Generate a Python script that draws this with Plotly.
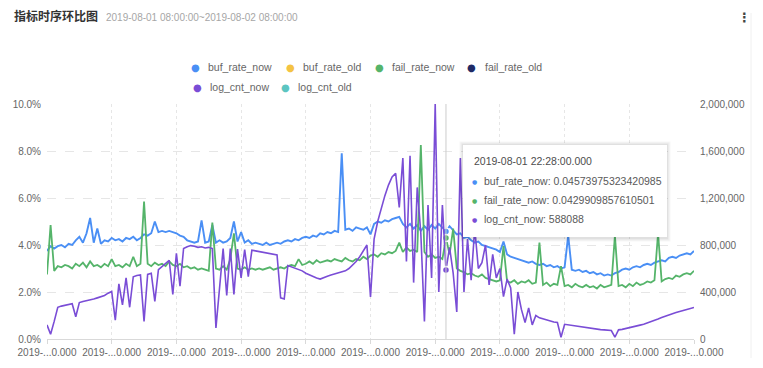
import plotly.graph_objects as go
import pandas as pd

# ---------------- data ----------------
times = list(pd.date_range("2019-08-01 08:00:00", periods=181, freq="8min")
             .strftime("%Y-%m-%d %H:%M:%S.000"))

buf_rate_now = [
    0.0375, 0.0395, 0.0385, 0.0395, 0.0400, 0.0390, 0.0405, 0.0400, 0.0420, 0.0435,
    0.0410, 0.0450, 0.0515, 0.0410, 0.0470, 0.0405, 0.0420, 0.0415, 0.0430, 0.0420,
    0.0425, 0.0415, 0.0430, 0.0425, 0.0435, 0.0420, 0.0430, 0.0445, 0.0440, 0.0450,
    0.0500, 0.0455, 0.0460, 0.0455, 0.0460, 0.0455, 0.0450, 0.0440, 0.0435, 0.0420,
    0.0415, 0.0410, 0.0415, 0.0505, 0.0410, 0.0415, 0.0485, 0.0410, 0.0420, 0.0410,
    0.0415, 0.0430, 0.0500, 0.0415, 0.0455, 0.0410, 0.0420, 0.0405, 0.0410, 0.0405,
    0.0400, 0.0410, 0.0400, 0.0405, 0.0410, 0.0405, 0.0415, 0.0420, 0.0415, 0.0425,
    0.0420, 0.0430, 0.0435, 0.0430, 0.0440, 0.0435, 0.0450, 0.0445, 0.0455, 0.0450,
    0.0460, 0.0455, 0.0790, 0.0465, 0.0470, 0.0460, 0.0475, 0.0470, 0.0465, 0.0475,
    0.0445, 0.0490, 0.0500, 0.0495, 0.0505, 0.0500, 0.0510, 0.0515, 0.0520, 0.0490,
    0.0475, 0.0490, 0.0470, 0.0485, 0.0460, 0.0480, 0.0465, 0.0485, 0.0470, 0.0490,
    0.0475, 0.04573975323420985, 0.0480, 0.0460, 0.0445, 0.0450, 0.0430, 0.0435, 0.0420, 0.0410,
    0.0415, 0.0400, 0.0395, 0.0390, 0.0385, 0.0380, 0.0370, 0.0415, 0.0360, 0.0350,
    0.0345, 0.0340, 0.0335, 0.0330, 0.0325, 0.0330, 0.0320, 0.0315, 0.0320, 0.0310,
    0.0315, 0.0305, 0.0310, 0.0300, 0.0305, 0.0440, 0.0295, 0.0290, 0.0295, 0.0285,
    0.0290, 0.0280, 0.0285, 0.0275, 0.0280, 0.0270, 0.0275, 0.0270, 0.0280, 0.0285,
    0.0295, 0.0300, 0.0295, 0.0305, 0.0310, 0.0305, 0.0315, 0.0320, 0.0315, 0.0325,
    0.0330, 0.0335, 0.0330, 0.0345, 0.0350, 0.0345, 0.0355, 0.0360, 0.0365, 0.0360,
    0.0375,
]

fail_rate_now = [
    0.0275, 0.0485, 0.0290, 0.0310, 0.0305, 0.0315, 0.0310, 0.0300, 0.0320, 0.0310,
    0.0325, 0.0305, 0.0330, 0.0310, 0.0315, 0.0305, 0.0320, 0.0310, 0.0340, 0.0310,
    0.0315, 0.0305, 0.0320, 0.0310, 0.0350, 0.0310, 0.0320, 0.0585, 0.0320, 0.0310,
    0.0325, 0.0315, 0.0320, 0.0310, 0.0330, 0.0315, 0.0310, 0.0320, 0.0305, 0.0310,
    0.0300, 0.0305, 0.0295, 0.0300, 0.0295, 0.0290, 0.0495, 0.0300, 0.0295, 0.0310,
    0.0295, 0.0340, 0.0450, 0.0300, 0.0295, 0.0305, 0.0295, 0.0300, 0.0295, 0.0300,
    0.0295, 0.0300, 0.0305, 0.0295, 0.0300, 0.0305, 0.0300, 0.0310, 0.0315, 0.0310,
    0.0340, 0.0315, 0.0320, 0.0330, 0.0320, 0.0335, 0.0325, 0.0330, 0.0335, 0.0330,
    0.0340, 0.0335, 0.0330, 0.0345, 0.0335, 0.0330, 0.0340, 0.0335, 0.0350, 0.0340,
    0.0355, 0.0360, 0.0350, 0.0365, 0.0360, 0.0370, 0.0365, 0.0375, 0.0410, 0.0370,
    0.0390, 0.0375, 0.0380, 0.0370, 0.0825, 0.0370, 0.0350, 0.0360, 0.0345, 0.0350,
    0.0340, 0.0429909857610501, 0.0360, 0.0470, 0.0300, 0.0290, 0.0285, 0.0275, 0.0280, 0.0270,
    0.0265, 0.0275, 0.0260, 0.0255, 0.0250, 0.0245, 0.0250, 0.0395, 0.0245, 0.0240,
    0.0250, 0.0235, 0.0245, 0.0240, 0.0250, 0.0235, 0.0240, 0.0410, 0.0230, 0.0240,
    0.0225, 0.0235, 0.0230, 0.0310, 0.0225, 0.0230, 0.0220, 0.0235, 0.0225, 0.0220,
    0.0230, 0.0220, 0.0225, 0.0215, 0.0230, 0.0220, 0.0225, 0.0230, 0.0440, 0.0225,
    0.0230, 0.0220, 0.0235, 0.0225, 0.0240, 0.0230, 0.0235, 0.0245, 0.0240, 0.0250,
    0.0450, 0.0245, 0.0255, 0.0260, 0.0255, 0.0270, 0.0265, 0.0275, 0.0280, 0.0275,
    0.0290,
]

log_cnt_now = [
    120000, 40000, 150000, 270000, 280000, 285000, 290000, 300000, 190000, 310000,
    320000, 325000, 335000, 340000, 350000, 360000, 370000, 390000, 405000, 160000,
    470000, 290000, 520000, 270000, 530000, 540000, 545000, 150000, 550000, 560000,
    320000, 590000, 615000, 640000, 670000, 380000, 730000, 450000, 770000, 785000,
    795000, 790000, 780000, 785000, 775000, 780000, 770000, 95000, 470000, 770000,
    370000, 770000, 380000, 765000, 520000, 760000, 530000, 755000, 750000, 745000,
    740000, 735000, 730000, 725000, 715000, 350000, 340000, 625000, 615000, 600000,
    590000, 580000, 560000, 545000, 530000, 520000, 510000, 525000, 535000, 545000,
    555000, 565000, 570000, 580000, 600000, 630000, 660000, 700000, 750000, 800000,
    357000, 850000, 1000000, 1115000, 1220000, 1310000, 1380000, 1410000, 1120000, 1540000,
    660000, 1560000, 480000, 1290000, 900000, 150000, 1140000, 520000, 2000000, 400000,
    1140000, 588088, 780000, 560000, 230000, 1540000, 400000, 850000, 500000, 945000,
    600000, 650000, 800000, 460000, 720000, 520000, 600000, 360000, 510000, 434000,
    40000, 400000, 250000, 140000, 264000, 120000, 200000, 180000, 170000, 160000,
    150000, 145000, 140000, 15000, 125000, 120000, 115000, 110000, 105000, 100000,
    95000, 90000, 88000, 85000, 80000, 78000, 75000, 72000, 15000, 78000,
    82000, 88000, 95000, 100000, 110000, 118000, 125000, 135000, 145000, 158000,
    170000, 182000, 195000, 205000, 215000, 225000, 235000, 245000, 252000, 260000,
    268000,
]

x_tick_labels = ["2019-...0.000"] * 11
left_ticks = [0.0, 0.02, 0.04, 0.06, 0.08, 0.10]
right_ticks = [0, 400000, 800000, 1200000, 1600000, 2000000]

legend_names = ["buf_rate_now", "buf_rate_old", "fail_rate_now", "fail_rate_old",
                "log_cnt_now", "log_cnt_old"]
legend_colors = ["#4a8ff5", "#f4c343", "#55b46a", "#1f2a66", "#7a4dd6", "#5cc5c1"]

title_text = "指标时序环比图"
subtitle_text = "2019-08-01 08:00:00~2019-08-02 08:00:00"
tooltip_index = 111
tooltip_header = "2019-08-01 22:28:00.000"

# ---------------- layout helpers ----------------
# page body has an 8px default margin: figure starts at page (8, 8)
OFF = 8
PAGE_W, PAGE_H = 763, 368
PL, PR_EDGE, PT, PB_EDGE = 47, 694, 104, 339      # plot area in page pixels
W, H = PAGE_W - 2 * OFF, PAGE_H - 2 * OFF
L, T = PL - OFF, PT - OFF
PW, PH = PR_EDGE - PL, PB_EDGE - PT
R, B = W - L - PW, H - T - PH
def px(x): return (x - PL) / PW
def py(y): return (PB_EDGE - y) / PH

FONT = "Liberation Sans, Arial, Helvetica, sans-serif"
C_BLUE, C_GREEN, C_PURPLE = legend_colors[0], legend_colors[2], legend_colors[4]

fig = go.Figure()
fig.add_trace(go.Scatter(x=times, y=buf_rate_now, name="buf_rate_now", mode="lines",
                         line=dict(color=C_BLUE, width=1.9), showlegend=False))
fig.add_trace(go.Scatter(x=times, y=fail_rate_now, name="fail_rate_now", mode="lines",
                         line=dict(color=C_GREEN, width=1.8), showlegend=False))
fig.add_trace(go.Scatter(x=times, y=log_cnt_now, name="log_cnt_now", mode="lines",
                         line=dict(color=C_PURPLE, width=1.6), yaxis="y2", showlegend=False))

# highlighted points at the crosshair
hi = tooltip_index
for ser, col, ax in [(buf_rate_now, C_BLUE, "y"), (fail_rate_now, C_GREEN, "y"),
                     (log_cnt_now, C_PURPLE, "y2")]:
    fig.add_trace(go.Scatter(x=[times[hi]], y=[ser[hi]], mode="markers", yaxis=ax,
                             marker=dict(size=7, color=col, line=dict(color="white", width=1.5)),
                             showlegend=False, hoverinfo="skip"))

shapes = []
annotations = []

# crosshair
shapes.append(dict(type="line", xref="x", yref="paper", x0=times[hi], x1=times[hi], y0=0, y1=1,
                   line=dict(color="#cccccc", width=1), layer="above"))

# tooltip box with soft shadow
bx0, bx1, by0, by1 = px(463), px(667), py(237), py(145)
for i, a in enumerate([0.03, 0.04, 0.05]):
    d = (3 - i) * 1.2
    shapes.append(dict(type="rect", xref="paper", yref="paper",
                       x0=bx0 - d / PW, x1=bx1 + d / PW, y0=by0 - (d + 1) / PH, y1=by1 + d / PH,
                       fillcolor=f"rgba(0,0,0,{a})", line=dict(width=0), layer="above"))
shapes.append(dict(type="rect", xref="paper", yref="paper", x0=bx0, x1=bx1, y0=by0, y1=by1,
                   fillcolor="white", line=dict(width=0), layer="above"))

annotations.append(dict(xref="paper", yref="paper", x=px(472), y=py(161), xanchor="left",
                        yanchor="middle", showarrow=False, text=tooltip_header,
                        font=dict(size=10.5, color="#4d4d4d", family=FONT)))
rows = [("buf_rate_now", buf_rate_now[hi], C_BLUE, 181),
        ("fail_rate_now", fail_rate_now[hi], C_GREEN, 200),
        ("log_cnt_now", log_cnt_now[hi], C_PURPLE, 219)]
for name, val, col, yy in rows:
    annotations.append(dict(xref="paper", yref="paper", x=px(474), y=py(yy), xanchor="center",
                            yanchor="middle", showarrow=False, text="●",
                            font=dict(size=6, color=col, family="DejaVu Sans")))
    annotations.append(dict(xref="paper", yref="paper", x=px(482), y=py(yy), xanchor="left",
                            yanchor="middle", showarrow=False, text=f"{name}: {val}",
                            font=dict(size=10.5, color="#595959", family=FONT)))

# title
annotations.append(dict(xref="paper", yref="paper", x=px(12), y=py(15.5), xanchor="left",
                        yanchor="middle", showarrow=False, text="<b>" + title_text + "</b>",
                        font=dict(size=12, color="#333333", family="Noto Sans CJK SC")))
annotations.append(dict(xref="paper", yref="paper", x=px(104), y=py(17), xanchor="left",
                        yanchor="middle", showarrow=False, text=subtitle_text,
                        font=dict(size=10, color="#a6a6a6", family=FONT)))
annotations.append(dict(xref="paper", yref="paper", x=px(744), y=py(17), xanchor="center",
                        yanchor="middle", showarrow=False, text="<b>⋮</b>",
                        font=dict(size=13, color="#444444", family="DejaVu Sans")))

# legend (manual, two rows)
leg_pos = [(195, 67), (290, 67), (379, 67), (472, 67), (197, 87), (285, 87)]
for name, col, (dx, dy) in zip(legend_names, legend_colors, leg_pos):
    annotations.append(dict(xref="paper", yref="paper", x=px(dx), y=py(dy), xanchor="center",
                            yanchor="middle", showarrow=False, text="●",
                            font=dict(size=10, color=col, family="DejaVu Sans")))
    annotations.append(dict(xref="paper", yref="paper", x=px(dx + 11), y=py(dy), xanchor="left",
                            yanchor="middle", showarrow=False, text=name,
                            font=dict(size=10.5, color="#666666", family=FONT)))

# faint card edge on the right
shapes.append(dict(type="line", xref="paper", yref="paper", x0=px(751), x1=px(751),
                   y0=py(358), y1=py(13), line=dict(color="#f0f0f0", width=1)))

fig.update_layout(
    width=W, height=H, autosize=False,
    margin=dict(l=L, r=R, t=T, b=B, pad=0, autoexpand=False),
    paper_bgcolor="white", plot_bgcolor="white",
    font=dict(family=FONT, size=10, color="#666666"),
    showlegend=False,
    xaxis=dict(type="category", range=[0, len(times) - 1], tickmode="array",
               tickvals=times[::18], ticktext=x_tick_labels, automargin=False,
               showgrid=True, gridcolor="#e6e6e6", griddash="dot", gridwidth=1,
               showline=True, linecolor="#d9d9d9", linewidth=1,
               ticks="outside", ticklen=4, tickcolor="#d9d9d9",
               tickfont=dict(size=10, color="#666666"), zeroline=False),
    yaxis=dict(range=[0, 0.10], tickmode="array", tickvals=left_ticks, tickformat=".1%",
               showgrid=True, gridcolor="#e6e6e6", griddash="dash", gridwidth=1,
               zeroline=False, showline=False, ticks="", ticklabelstandoff=5,
               automargin=False, tickfont=dict(size=10, color="#666666")),
    yaxis2=dict(range=[0, 2000000], overlaying="y", side="right", tickmode="array",
                tickvals=right_ticks, tickformat=",", showgrid=False, zeroline=False,
                showline=False, ticks="", ticklabelstandoff=5, automargin=False,
                tickfont=dict(size=10, color="#666666")),
    shapes=shapes, annotations=annotations,
    hovermode="x unified",
)

fig.write_html("out.html")
